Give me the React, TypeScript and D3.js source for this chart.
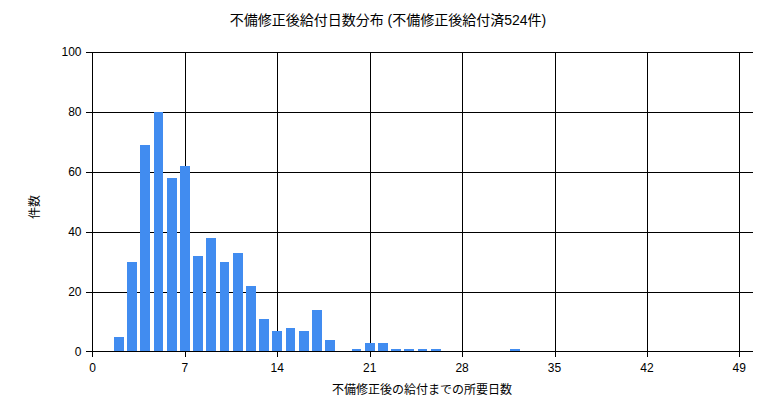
import React, { useEffect, useRef } from 'react';
import * as d3 from 'd3';

// days until payment after correction, and number of cases
const days = [2, 3, 4, 5, 6, 7, 8, 9, 10, 11, 12, 13, 14, 15, 16, 17, 18, 20, 21, 22, 23, 24, 25, 26, 32];
const counts = [5, 30, 69, 80, 58, 62, 32, 38, 30, 33, 22, 11, 7, 8, 7, 14, 4, 1, 3, 3, 1, 1, 1, 1, 1];
const xTicks = [0, 7, 14, 21, 28, 35, 42, 49];
const yTicks = [0, 20, 40, 60, 80, 100];

const title = '不備修正後給付日数分布 (不備修正後給付済524件)';
const xTitle = '不備修正後の給付までの所要日数';
const yTitle = '件数';

const W = 776;
const H = 415;
const FONT = "'Liberation Sans', Arial, 'Noto Sans CJK JP', sans-serif";

const App: React.FC = () => {
  const svgRef = useRef<SVGSVGElement>(null);

  useEffect(() => {
    if (!svgRef.current) return;
    const svg = d3.select(svgRef.current);
    svg.selectAll('*').remove();

    const left = 92.5, right = 752.5, top = 52, bottom = 351.5;

    const x = d3.scaleLinear().domain([0, 50]).range([left, right]);
    const y = d3.scaleLinear().domain([0, 100]).range([bottom, top]);

    svg.append('rect').attr('width', W).attr('height', H).attr('fill', '#fff');

    const grid = svg.append('g').attr('stroke', '#000').attr('stroke-width', 1.2).attr('shape-rendering', 'crispEdges');

    // horizontal gridlines + y ticks
    yTicks.filter(t => t > 0).forEach(t => {
      grid.append('line')
        .attr('x1', left - 7).attr('x2', right)
        .attr('y1', Math.round(y(t)) + 0.5).attr('y2', Math.round(y(t)) + 0.5);
    });
    // vertical gridlines + x ticks
    xTicks.filter(t => t > 0).forEach(t => {
      grid.append('line')
        .attr('x1', Math.round(x(t)) + 0.5).attr('x2', Math.round(x(t)) + 0.5)
        .attr('y1', top).attr('y2', bottom + 5);
    });

    // bars
    const bw = 9.8;
    svg.append('g')
      .selectAll('rect')
      .data(days.map((d, i) => ({ d, c: counts[i] })))
      .join('rect')
      .attr('x', v => x(v.d) - bw / 2)
      .attr('width', bw)
      .attr('y', v => y(v.c))
      .attr('height', v => y(0) - y(v.c))
      .attr('fill', '#418CF0')
      .attr('shape-rendering', 'crispEdges');

    // axis lines
    const axes = svg.append('g').attr('stroke', '#000').attr('stroke-width', 1.2).attr('shape-rendering', 'crispEdges');
    axes.append('line').attr('x1', left).attr('x2', left).attr('y1', top).attr('y2', bottom + 5);
    axes.append('line').attr('x1', left - 7).attr('x2', right).attr('y1', bottom).attr('y2', bottom);

    // tick labels
    const labels = svg.append('g').attr('font-family', FONT).attr('font-size', 12).attr('fill', '#000');
    yTicks.forEach(t => {
      labels.append('text')
        .attr('x', left - 11).attr('y', y(t))
        .attr('dy', '0.35em')
        .attr('text-anchor', 'end')
        .text(t);
    });
    xTicks.forEach(t => {
      labels.append('text')
        .attr('x', x(t)).attr('y', bottom + 16)
        .attr('dy', '0.35em')
        .attr('text-anchor', 'middle')
        .text(t);
    });

    // titles
    svg.append('text')
      .attr('x', 388).attr('y', 20)
      .attr('dy', '0.35em')
      .attr('text-anchor', 'middle')
      .attr('font-family', FONT).attr('font-size', 14)
      .text(title);

    svg.append('text')
      .attr('x', 422).attr('y', 390)
      .attr('dy', '0.35em')
      .attr('text-anchor', 'middle')
      .attr('font-family', FONT).attr('font-size', 12)
      .text(xTitle);

    svg.append('text')
      .attr('transform', `translate(35,${207}) rotate(-90)`)
      .attr('dy', '0.35em')
      .attr('text-anchor', 'middle')
      .attr('font-family', FONT).attr('font-size', 12)
      .text(yTitle);
  }, []);

  return (
    <div style={{ position: 'fixed', left: 0, top: 0 }}>
      <svg ref={svgRef} width={W} height={H} style={{ display: 'block' }} />
    </div>
  );
};

export default App;
